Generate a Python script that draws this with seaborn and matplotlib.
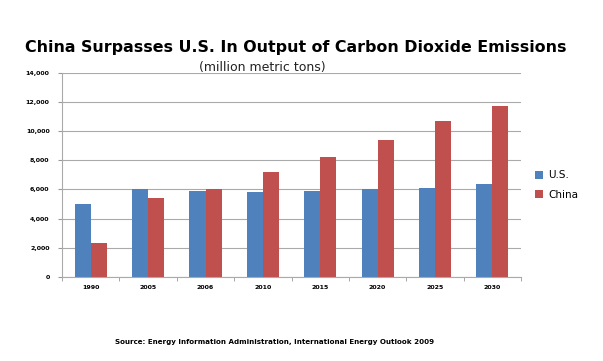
import matplotlib
matplotlib.use("Agg")
import matplotlib.pyplot as plt
import seaborn as sns
import pandas as pd

years = ["1990", "2005", "2006", "2010", "2015", "2020", "2025", "2030"]
us = [5000, 6000, 5900, 5800, 5900, 6000, 6100, 6400]
china = [2300, 5400, 6000, 7200, 8200, 9400, 10700, 11700]
series = ["U.S.", "China"]
colors = ["#4F81BD", "#C0504D"]

df = pd.DataFrame({
    "year": years * 2,
    "value": us + china,
    "series": [series[0]] * len(years) + [series[1]] * len(years),
})

sns.set_style("white")
plt.rcParams['font.family'] = ['DejaVu Sans']
plt.rcParams['text.color'] = 'black'
plt.rcParams['xtick.color'] = 'black'
plt.rcParams['ytick.color'] = 'black'

fig = plt.figure(figsize=(6.03, 3.61), dpi=100)
ax = fig.add_axes([0.103, 0.233, 0.761, 0.565])

sns.barplot(data=df, x="year", y="value", hue="series", palette=colors,
            width=0.56, ax=ax, saturation=1, errorbar=None, legend=True,
            linewidth=0, gap=0)

ax.set_ylim(0, 14000)
ax.set_xlim(-0.5, len(years) - 0.5)
ax.set_yticks(range(0, 14001, 2000))
ax.set_yticklabels([f"{v:,}" for v in range(0, 14001, 2000)], fontsize=4.5, fontweight="bold")
ax.set_xticks(range(len(years)))
ax.set_xticklabels(years, fontsize=4.5, fontweight="bold")
ax.tick_params(axis="x", length=0, pad=6)
ax.tick_params(axis="y", length=3, color="#999999", pad=6, left=True)
ax.set_xticks([i + 0.5 for i in range(-1, len(years))], minor=True)
ax.tick_params(axis="x", which="minor", length=3, color="#999999", bottom=True)
ax.grid(axis="y", color="#AAAAAA", linewidth=0.8)
ax.set_axisbelow(True)
for s in ["top", "right"]:
    ax.spines[s].set_visible(False)
ax.spines["left"].set_color("#AAAAAA")
ax.spines["bottom"].set_color("#AAAAAA")
ax.set_xlabel("")
ax.set_ylabel("")

leg = ax.legend(loc="center left", bbox_to_anchor=(1.01, 0.45), frameon=False,
                fontsize=7.5, handlelength=0.8, handleheight=0.8, handletextpad=0.5,
                labelspacing=0.9)

fig.text(0.491, 0.868, "China Surpasses U.S. In Output of Carbon Dioxide Emissions",
         ha="center", va="center", fontsize=11.4, fontweight="heavy", color="black")
fig.text(0.435, 0.812, "(million metric tons)", ha="center", va="center", fontsize=9,
         color="#222222")
fig.text(0.456, 0.053, "Source: Energy Information Administration, International Energy Outlook 2009",
         ha="center", va="center", fontsize=5.1, fontweight="bold", color="black")

fig.savefig("out.png", dpi=100)
